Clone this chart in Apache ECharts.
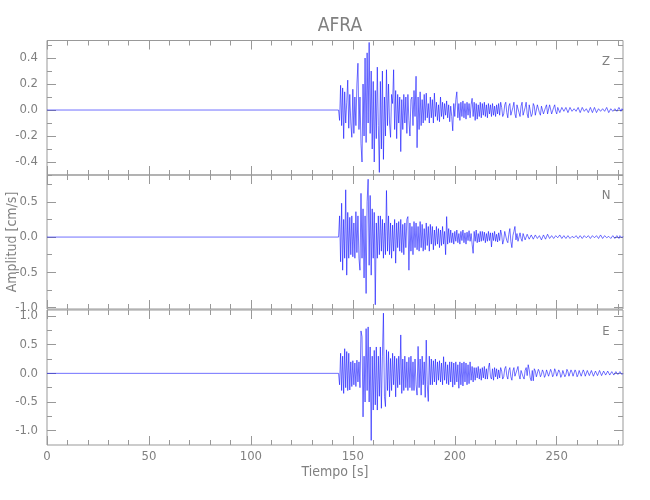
<!DOCTYPE html>
<html><head><meta charset="utf-8">
<script src="https://cdn.jsdelivr.net/npm/echarts@6/dist/echarts.min.js"></script>
<style>html,body{margin:0;padding:0;background:#fff}#c{width:650px;height:500px}</style>
</head><body><div id="c"></div>
<script>
// ---------- data ----------
const stationName = 'AFRA';
const components = ['Z', 'N', 'E'];
const startTime = 143.0;      // first sample of the recorded motion [s]
const sampleStep = 0.5;       // seconds between samples
const timeMax = 282.5;
const timeLabelTicks = [0, 50, 100, 150, 200, 250];
const timeMinorTicks = [0,10,20,30,40,50,60,70,80,90,100,110,120,130,140,150,160,170,180,190,200,210,220,230,240,250,260,270,280];

const zValues = [
 0, -0.08, 0.19, -0.12, 0.17, -0.22, 0.14, -0.1, 0.06, 0.23,
 -0.14, 0.12, -0.1, -0.21, 0.16, -0.18, 0.1, -0.12, 0.2, 0.36,
 -0.15, 0.1, -0.26, -0.4, 0.2, -0.2, 0.4, -0.25, 0.44, -0.1,
 0.52, -0.18, 0.3, -0.3, 0.22, -0.4, 0.15, -0.22, 0.33, -0.12,
 -0.48, 0.22, -0.3, 0.3, -0.38, 0.1, -0.2, 0.31, -0.12, 0.2,
 -0.1, -0.21, 0.12, 0.05, 0.31, -0.15, 0.15, -0.22, 0.12, -0.1,
 0.1, -0.32, 0.08, -0.15, 0.12, -0.1, 0.1, -0.18, 0.12, -0.08,
 -0.2, 0.08, 0.1, -0.12, 0.15, -0.05, 0.26, -0.29, 0.1, -0.15,
 0.14, -0.12, 0.08, -0.1, 0.12, -0.08, 0.13, -0.06, 0.05, -0.1,
 0.1, -0.06, 0.08, -0.1, 0.13, -0.05, 0.06, -0.08, 0.04, -0.09,
 0.1, -0.05, 0.06, -0.07, 0.05, -0.04, 0.07, -0.06, 0.04, -0.09,
 0.03, -0.05, -0.16, 0.05, -0.05, 0.08, 0.14, -0.06, 0.05, -0.08,
 0.06, -0.05, 0.07, -0.06, 0.05, -0.07, 0.06, -0.04, 0.05, -0.06,
 0.04, 0.09, -0.05, 0.06, -0.08, 0.05, -0.07, 0.04, -0.05, 0.06,
 -0.06, 0.05, -0.04, 0.06, -0.05, 0.04, -0.06, 0.05, -0.03, 0.04,
 -0.05, 0.05, -0.04, 0.03, -0.05, 0.04, -0.03, 0.05, -0.04, 0.06,
 0.02, -0.05, -0.03, 0.04, 0.06, -0.02, -0.06, 0.03, 0.05, -0.04,
 -0.05, 0.02, 0.06, -0.03, -0.06, 0.04, 0.05, -0.02, -0.05, 0.03,
 0.06, -0.04, -0.05, 0.02, 0.06, -0.03, -0.06, 0.04, 0.04, -0.05,
 -0.03, 0.05, 0.03, -0.04, -0.03, 0.04, 0.05, -0.02, -0.04, 0.03,
 0.04, -0.03, -0.04, 0.02, 0.04, -0.03, -0.02, 0.04, 0.03, -0.03,
 -0.04, 0.02, 0.04, -0.01, -0.03, 0.02, 0.03, -0.02, -0.02, 0.02,
 0.02, -0.01, -0.02, 0.02, 0.01, -0.02, -0.01, 0.02, 0.02, -0.01,
 -0.02, 0.01, 0.02, -0.01, -0.02, 0.02, 0.01, -0.02, -0.01, 0.02,
 0.02, -0.01, -0.02, 0.01, 0.02, -0.02, -0.01, 0.02, 0.01, -0.02,
 -0.01, 0.02, 0.01, -0.02, -0.01, 0.01, 0.02, -0.01, -0.02, 0.01,
 0.02, -0.01, -0.01, 0.02, 0.01, -0.02, -0.01, 0.01, 0.02, -0.01,
 -0.02, 0.01, 0.02, -0.01, -0.01, 0.02, 0.01, -0.01, 0.01, 0.0
];
const nValues = [
 0, 0.3, -0.35, 0.48, -0.47, 0.25, -0.3, 0.67, -0.54, 0.35,
 -0.3, 0.28, -0.25, 0.3, -0.28, 0.2, -0.3, 0.36, -0.22, 0.3,
 -0.3, -0.47, 0.62, -0.3, 0.4, -0.58, 0.3, -0.8, 0.5, 0.82,
 -0.4, 0.59, -0.54, 0.4, -0.3, 0.35, -0.96, 0.2, -0.3, 0.3,
 -0.25, 0.3, -0.2, 0.25, -0.3, 0.2, -0.25, 0.66, -0.2, 0.3,
 -0.25, 0.2, -0.3, 0.17, -0.2, 0.25, -0.37, 0.2, -0.15, 0.22,
 -0.2, 0.25, -0.22, 0.18, -0.25, 0.2, -0.15, 0.25, 0.29, -0.47,
 0.2, -0.2, 0.15, -0.25, 0.22, -0.15, 0.2, -0.18, 0.15, -0.2,
 0.22, -0.15, 0.18, -0.2, 0.12, -0.18, 0.2, -0.12, 0.15, -0.2,
 0.18, -0.1, 0.15, -0.18, 0.1, -0.12, 0.15, -0.1, 0.12, -0.15,
 0.1, -0.12, 0.15, -0.1, 0.08, -0.25, 0.29, -0.1, 0.12, -0.08,
 0.1, -0.08, 0.06, -0.1, 0.08, -0.06, 0.1, -0.08, 0.05, -0.1,
 0.08, -0.05, 0.1, -0.08, 0.06, -0.1, 0.07, -0.05, 0.09, -0.06,
 0.05, -0.1, -0.23, 0.08, -0.06, 0.1, -0.08, 0.05, -0.07, 0.08,
 -0.06, 0.08, -0.05, 0.07, -0.08, 0.05, -0.06, 0.08, -0.05, 0.06,
 -0.14, 0.06, -0.05, 0.08, -0.06, 0.04, -0.07, 0.06, -0.05, 0.1,
 0.03, -0.1, -0.04, 0.08, 0.1, -0.05, -0.08, 0.04, 0.12, -0.06,
 -0.15, 0.02, 0.08, 0.15, -0.04, 0.05, -0.06, -0.04, 0.06, -0.02,
 -0.06, 0.05, 0.03, -0.04, -0.05, 0.04, 0.06, -0.03, -0.04, 0.03,
 0.04, -0.03, -0.02, 0.03, 0.04, -0.02, -0.03, 0.02, 0.03, -0.04,
 -0.02, 0.03, 0.02, -0.03, -0.02, 0.04, 0.02, -0.02, -0.03, 0.02,
 0.03, -0.02, -0.03, 0.02, 0.03, -0.01, -0.02, 0.03, 0.02, -0.02,
 -0.03, 0.02, 0.01, -0.02, -0.01, 0.02, 0.03, -0.02, -0.03, 0.01,
 0.02, -0.01, -0.02, 0.02, 0.03, -0.02, -0.01, 0.02, 0.04, -0.02,
 -0.03, 0.02, 0.03, -0.01, -0.02, 0.02, 0.03, -0.02, -0.03, 0.02,
 0.04, -0.01, -0.02, 0.02, 0.01, -0.02, -0.01, 0.03, 0.02, -0.02,
 -0.02, 0.02, 0.03, -0.01, -0.02, 0.01, 0.02, -0.02, -0.01, 0.02,
 0.03, -0.02, -0.01, 0.02, 0.01, -0.02, 0.02, 0.01, -0.01, 0.01
];
const eValues = [
 0, -0.2, 0.35, -0.3, 0.3, -0.35, 0.43, -0.25, 0.38, -0.3,
 0.35, -0.29, 0.2, -0.23, 0.22, -0.2, 0.18, -0.23, 0.23, -0.15,
 0.2, -0.25, 0.74, 0.64, -0.76, 0.3, -0.5, 0.78, -0.3, 0.81,
 -0.5, 0.46, -1.17, 0.3, -0.64, 0.4, -0.55, 0.46, -0.64, 0.3,
 -0.4, 0.46, -0.61, 0.3, 1.05, -0.4, -0.58, 0.41, -0.3, 0.38,
 -0.41, 0.26, -0.3, 0.35, -0.2, 0.3, -0.41, 0.26, -0.25, 0.3,
 -0.2, 0.67, -0.35, 0.25, -0.3, 0.3, -0.25, 0.2, -0.3, 0.28,
 -0.25, 0.3, -0.3, 0.2, -0.3, 0.25, -0.2, -0.38, 0.47, -0.25,
 0.25, -0.38, 0.3, -0.2, 0.2, -0.42, 0.58, -0.2, -0.49, 0.3,
 -0.2, 0.25, -0.2, 0.22, -0.15, 0.25, -0.2, 0.2, -0.12, 0.22,
 -0.15, 0.18, -0.2, 0.29, -0.12, 0.2, -0.18, 0.15, -0.2, 0.2,
 -0.15, 0.2, -0.24, 0.18, -0.2, 0.2, -0.15, 0.15, -0.26, 0.2,
 -0.2, 0.18, -0.22, 0.2, -0.15, 0.18, -0.2, 0.15, -0.18, 0.2,
 -0.12, 0.12, -0.15, 0.1, -0.12, 0.1, -0.08, 0.12, -0.1, 0.08,
 -0.12, 0.1, -0.08, 0.12, -0.1, 0.08, -0.1, 0.1, 0.18, -0.06,
 -0.1, 0.08, -0.12, 0.1, -0.06, 0.08, -0.1, 0.06, -0.08, 0.1,
 0.04, -0.1, -0.06, 0.08, 0.12, -0.04, -0.1, 0.05, 0.1, -0.06,
 -0.12, 0.04, 0.1, -0.05, -0.08, 0.06, 0.12, -0.03, -0.1, 0.05,
 0.08, -0.06, -0.1, 0.05, 0.1, -0.04, 0.15, 0.06, -0.08, -0.13,
 0.05, -0.13, 0.08, 0.04, -0.06, -0.04, 0.07, 0.03, -0.06, -0.02,
 0.06, 0.02, -0.07, -0.03, 0.06, 0.04, -0.05, -0.03, 0.07, 0.02,
 -0.06, -0.02, 0.08, 0.03, -0.05, -0.04, 0.06, 0.02, -0.07, -0.03,
 0.05, 0.03, -0.06, -0.02, 0.07, 0.03, -0.05, -0.04, 0.06, 0.02,
 -0.05, -0.03, 0.06, 0.02, -0.06, -0.02, 0.05, 0.03, -0.05, -0.03,
 0.06, 0.02, -0.05, -0.02, 0.05, 0.03, -0.04, -0.03, 0.05, 0.02,
 -0.05, -0.02, 0.04, 0.02, -0.04, -0.02, 0.05, 0.02, -0.04, -0.03,
 0.04, 0.02, -0.03, -0.02, 0.04, 0.01, -0.03, -0.02, 0.03, 0.02,
 -0.03, -0.01, 0.03, 0.02, -0.02, -0.01, 0.03, 0.01, -0.02, 0.0
];
// amplitude axis extents and ticks per component
const zRange = [-0.5, 0.535];
const nRange = [-1.02, 0.88];
const eRange = [-1.25, 1.105];
const zLabelTicks = [-0.4, -0.2, 0, 0.2, 0.4];
const zMinorTicks = [-0.5, -0.4, -0.3, -0.2, -0.1, 0, 0.1, 0.2, 0.3, 0.4, 0.5];
const nLabelTicks = [-1, -0.5, 0, 0.5];
const nMinorTicks = [-1, -0.75, -0.5, -0.25, 0, 0.25, 0.5, 0.75];
const eLabelTicks = [-1, -0.5, 0, 0.5, 1];
const eMinorTicks = [-1, -0.75, -0.5, -0.25, 0, 0.25, 0.5, 0.75, 1];

// ---------- chart ----------
const FONT = '"Liberation Sans Narrow", "DejaVu Sans Condensed", "Roboto", sans-serif';
const GRAY = '#999999';
const TXT = '#808080';
const TRACE = '#1010ff';

const panels = [
  {values: zValues, range: zRange, labels: zLabelTicks, minor: zMinorTicks, grid: {top: 40.5, height: 134.5}},
  {values: nValues, range: nRange, labels: nLabelTicks, minor: nMinorTicks, grid: {top: 175, height: 134}},
  {values: eValues, range: eRange, labels: eLabelTicks, minor: eMinorTicks, grid: {top: 310, height: 135}}
];

const grid = [], xAxis = [], yAxis = [], series = [];
panels.forEach((p, g) => {
  grid.push({left: 47, right: 27, top: p.grid.top, height: p.grid.height, show: true,
    containLabel: false, outerBoundsMode: 'none',
    borderColor: GRAY, borderWidth: 1, backgroundColor: 'transparent'});
  const isLast = g === panels.length - 1;
  const xi = xAxis.length, yi = yAxis.length;
  const mkX = (pos, ticks, len, withLabels) => {
    const ax = {type: 'value', gridIndex: g, position: pos, min: 0, max: timeMax,
      axisLine: {show: false, onZero: false}, splitLine: {show: false},
      axisTick: {show: true, inside: true, length: len, customValues: ticks, lineStyle: {color: GRAY, width: 1}},
      axisLabel: {show: false}};
    if (withLabels) {
      ax.axisLabel = {show: true, customValues: timeLabelTicks, margin: 5, color: TXT,
        fontFamily: FONT, fontSize: 13, formatter: v => String(v)};
      ax.name = 'Tiempo [s]';
      ax.nameLocation = 'middle';
      ax.nameGap = 20;
      ax.nameMoveOverlap = false;
      ax.nameTextStyle = {color: TXT, fontFamily: FONT, fontSize: 14};
    }
    return ax;
  };
  xAxis.push(mkX('bottom', timeLabelTicks, 9, isLast));
  xAxis.push(mkX('bottom', timeMinorTicks, 5, false));
  xAxis.push(mkX('top', timeLabelTicks, 9, false));
  xAxis.push(mkX('top', timeMinorTicks, 5, false));
  const mkY = (pos, ticks, len, withLabels) => {
    const ax = {type: 'value', gridIndex: g, position: pos, min: p.range[0], max: p.range[1],
      axisLine: {show: false, onZero: false}, splitLine: {show: false},
      axisTick: {show: true, inside: true, length: len, customValues: ticks, lineStyle: {color: GRAY, width: 1}},
      axisLabel: {show: false}};
    if (withLabels) {
      ax.axisLabel = {show: true, customValues: p.labels, margin: 9, color: TXT,
        fontFamily: FONT, fontSize: 13, formatter: v => v.toFixed(1)};
    }
    if (withLabels && g === 1) {
      ax.name = 'Amplitud [cm/s]';
      ax.nameLocation = 'middle';
      ax.nameGap = 28;
      ax.nameMoveOverlap = false;
      ax.nameTextStyle = {color: TXT, fontFamily: FONT, fontSize: 14};
    }
    return ax;
  };
  yAxis.push(mkY('left', p.labels, 9, true));
  yAxis.push(mkY('left', p.minor, 5, false));
  yAxis.push(mkY('right', p.labels, 9, false));
  yAxis.push(mkY('right', p.minor, 5, false));
  const data = [[0, 0]].concat(p.values.map((v, i) => [startTime + i * sampleStep, v]));
  series.push({type: 'line', name: components[g], xAxisIndex: xi, yAxisIndex: yi, data: data,
    showSymbol: false, symbol: 'none', clip: false, sampling: null,
    lineStyle: {color: TRACE, width: 0.7, opacity: 0.85}, silent: true});
});

const chart = echarts.init(document.getElementById('c'), null, {renderer: 'canvas'});
chart.setOption({
  animation: false,
  backgroundColor: '#ffffff',
  title: {text: stationName, left: 335, top: 12, textAlign: 'center',
    textStyle: {color: TXT, fontFamily: FONT, fontSize: 19, fontWeight: 'normal'}},
  grid: grid, xAxis: xAxis, yAxis: yAxis, series: series,
  graphic: components.map((c, g) => ({type: 'text', x: 606, y: [61.5, 196, 332][g],
    style: {text: c, fill: TXT, font: '13px ' + FONT, align: 'center', verticalAlign: 'middle'}}))
});
</script>
</body></html>
